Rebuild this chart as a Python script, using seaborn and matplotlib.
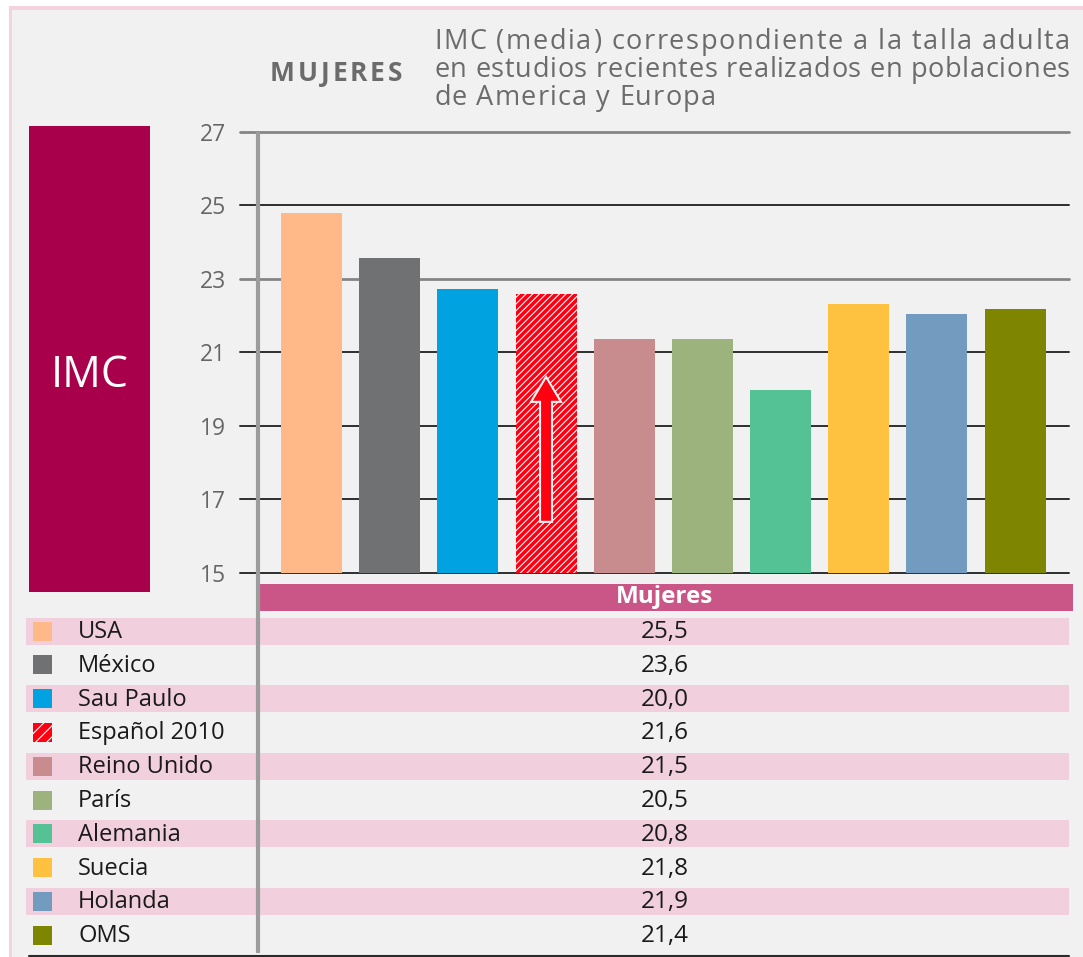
"""
IMC (media) en mujeres: barras por pais + tabla de valores debajo.
Salida: out.png (1083x957)
"""

import matplotlib
matplotlib.use("Agg")
import matplotlib.pyplot as plt
import matplotlib.patches as mpatches
import seaborn as sns

# === Datos ===
countries = ["USA", "México", "Sau Paulo", "Español 2010", "Reino Unido",
             "París", "Alemania", "Suecia", "Holanda", "OMS"]
bar_values = [24.8, 23.57, 22.72, 22.59, 21.36, 21.36, 19.97, 22.31, 22.04, 22.18]
table_values = ["25,5", "23,6", "20,0", "21,6", "21,5",
                "20,5", "20,8", "21,8", "21,9", "21,4"]
bar_colors = ["#FFB887", "#707173", "#00A3E0", "#FF0012", "#C88C8E",
              "#9DB37E", "#55C296", "#FFC140", "#739ABF", "#7E8500"]
y_ticks = [15, 17, 19, 21, 23, 25, 27]
title_lines = ["IMC (media) correspondiente a la talla adulta",
               "en estudios recientes realizados en poblaciones",
               "de America y Europa"]

# === Estilo ===
W, H = 1083, 957
BG = "#F0F1F0"
PINK_BORDER = "#F4D2DE"
PINK_BAND = "#F2CFDC"
HEADER = "#C95687"
IMC_BOX = "#A8004A"
sns.set_style("white")
plt.rcParams["font.family"] = ["Open Sans", "DejaVu Sans"]
plt.rcParams["hatch.linewidth"] = 0.8

fig = plt.figure(figsize=(W / 100, H / 100), dpi=100)
fig.patch.set_facecolor("white")
renderer = fig.canvas.get_renderer()


def px_axes(x0, y0, x1, y1, z):
    """axes placed by pixel box (top-left origin)"""
    return fig.add_axes([x0 / W, 1 - y1 / H, (x1 - x0) / W, (y1 - y0) / H], zorder=z)


def text_width(ax, s, **kw):
    t = ax.text(0, 0, s, **kw)
    w = t.get_window_extent(renderer).width
    t.remove()
    return w


def char_advances(ax, s, **kw):
    bar = text_width(ax, "||", **kw)
    return [text_width(ax, "|" + ch + "|", **kw) - bar for ch in s]


def tracked_text(ax, x, y, s, track, **kw):
    """text with letter spacing (matplotlib has none), one glyph at a time"""
    xx = x
    for ch, adv in zip(s, char_advances(ax, s, **kw)):
        if ch != " ":
            ax.text(xx, y, ch, ha="left", va="baseline", **kw)
        xx += adv + track


def fit_track(ax, s, target_w, **kw):
    return (target_w - sum(char_advances(ax, s, **kw))) / (len(s) - 1)


# --- fondo y tabla (pixel coords) ---
bg = px_axes(0, 0, W, H, 0)
bg.set_xlim(0, W)
bg.set_ylim(H, 0)
bg.axis("off")
bg.add_patch(mpatches.Rectangle((9, 6), W, H, color=PINK_BORDER, lw=0))
bg.add_patch(mpatches.Rectangle((12, 10), W, H, color=BG, lw=0))
bg.add_patch(mpatches.Rectangle((29, 126), 121, 466, color=IMC_BOX, lw=0))
bg.text(89.5, 376, "IMC", color="white", fontsize=31, ha="center", va="center")

bg.add_patch(mpatches.Rectangle((259, 584), 1073 - 259, 27, color=HEADER, lw=0))
bg.text(664.5, 597, "Mujeres", color="white", fontsize=17.5, fontweight="bold",
        ha="center", va="center")

row0, pitch = 631, 33.8
for i, (name, val, col) in enumerate(zip(countries, table_values, bar_colors)):
    yc = row0 + pitch * i
    if i % 2 == 0:
        bg.add_patch(mpatches.Rectangle((26, yc - 13.5), 1069 - 26, 27,
                                        color=PINK_BAND, lw=0))
    sw = mpatches.Rectangle((33, yc - 9.5), 19, 19, facecolor=col, lw=0)
    if i == 3:
        sw.set_edgecolor("white")
        sw.set_hatch("///")
    bg.add_patch(sw)
    bg.text(78, yc + 1, name, color="#1A1A1A", fontsize=17, ha="left", va="center")
    bg.text(664.5, yc + 1, val, color="#1A1A1A", fontsize=17.5, ha="center", va="center")

# titulos (con espaciado entre letras)
mj_kw = dict(color="#6B6B6B", fontsize=19, fontweight="bold")
tracked_text(bg, 270, 81, "MUJERES", fit_track(bg, "MUJERES", 132, **mj_kw), **mj_kw)
tt_kw = dict(color="#6B6B6B", fontsize=19.5)
tracks = [fit_track(bg, title_lines[0], 636, **tt_kw),
          fit_track(bg, title_lines[1], 636, **tt_kw)]
tracks.append(sum(tracks) / 2)
for k, (line, tr) in enumerate(zip(title_lines, tracks)):
    tracked_text(bg, 434, 49 + 28 * k, line, tr, **tt_kw)

# --- barras ---
ax = px_axes(240, 132, 1069, 572.5, 1)
ax.set_facecolor("none")
sns.barplot(x=countries, y=bar_values, hue=countries, palette=bar_colors,
            legend=False, width=0.78, saturation=1, linewidth=0, ax=ax)
ax.set_xlim(-0.915, 9.69)
ax.set_ylim(15, 27)
for sp in ax.spines.values():
    sp.set_visible(False)
ax.set_xticks([])
ax.set_yticks(y_ticks)
ax.set_yticklabels([str(t) for t in y_ticks], fontsize=16.5, color="#666666")
ax.tick_params(axis="y", length=0, pad=10)
ax.set_xlabel("")
ax.set_ylabel("")

# lineas horizontales (27 y 23 grises, resto oscuras)
for t in y_ticks:
    grey = t in (27, 23)
    ax.axhline(t, color="#858585" if grey else "#2E2E2E", lw=2 if grey else 1.4,
               zorder=0, clip_on=False)

# barra Español 2010: rayada
hb = ax.patches[3]
hb.set_hatch("/////")
hb.set_edgecolor("white")
hb.set_linewidth(0)

# flecha roja dentro de la barra
ax.add_patch(mpatches.FancyArrow(3, 16.38, 0, 3.95, width=12 / 78.2,
                                 head_width=30 / 78.2, head_length=25 / 36.7,
                                 length_includes_head=True, fc="#FF0010",
                                 ec="#F5F5F5", lw=1.5, zorder=5))

# --- lineas superiores ---
ov = px_axes(0, 0, W, H, 2)
ov.set_xlim(0, W)
ov.set_ylim(H, 0)
ov.axis("off")
ov.set_facecolor("none")
ov.plot([257.5, 257.5], [132, 953], color="#9C9C9C", lw=3, solid_capstyle="butt")
ov.plot([29, 1069], [955.5, 955.5], color="#2A2A2A", lw=1.5)

fig.savefig("out.png", dpi=100, facecolor=fig.get_facecolor())
